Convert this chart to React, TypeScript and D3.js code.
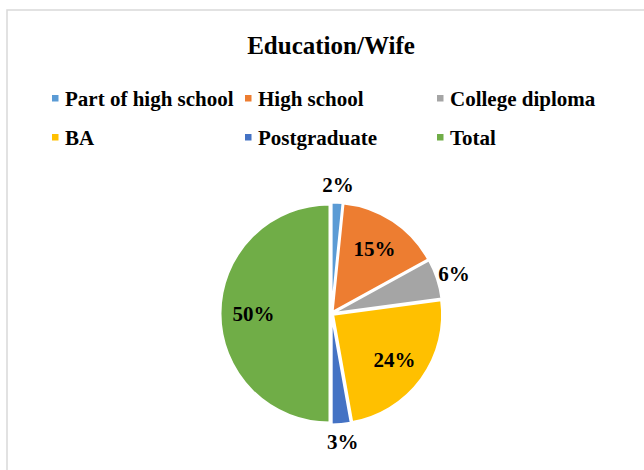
import React from "react";
import * as d3 from "d3";

const categories = ["Part of high school", "High school", "College diploma", "BA", "Postgraduate", "Total"];
const values = [1.6, 15.4, 5.9, 24.3, 2.8, 50];
const colors = ["#5B9BD5", "#ED7D31", "#A5A5A5", "#FFC000", "#4472C4", "#70AD47"];
const title = "Education/Wife";

const W = 644;
const H = 470;
const cx = 331.5;
const cy = 313.5;
const R = 109;
const explode = 2;
const font = "'Liberation Serif', 'Times New Roman', serif";

export default function App() {
  const total = d3.sum(values);
  const pie = d3.pie<number>().sort(null).value((d) => d)(values);
  const arc = d3.arc<d3.PieArcDatum<number>>().innerRadius(0).outerRadius(R);
  const inLabel = d3.arc<d3.PieArcDatum<number>>().innerRadius(78).outerRadius(78);
  const outLabel = d3.arc<d3.PieArcDatum<number>>().innerRadius(129).outerRadius(129);

  const legendCols = [52, 245, 437];
  const legendRows = [106, 145];

  return (
    <svg width={W} height={H} style={{ position: "absolute", left: 0, top: 0 }}>
      <rect x={0} y={0} width={W} height={H} fill="#fff" />
      <rect x={7} y={10} width={W + 20} height={H + 20} fill="#fff" stroke="#d9d9d9" strokeWidth={1.5} />
      <text x={331} y={54} textAnchor="middle" fontFamily={font} fontWeight="bold" fontSize={25} fill="#000">
        {title}
      </text>
      {categories.map((c, i) => {
        const col = i % 3;
        const row = Math.floor(i / 3);
        const x = legendCols[col];
        const y = legendRows[row];
        return (
          <g key={c}>
            <rect x={x} y={y - 11} width={6.5} height={6.5} fill={colors[i]} />
            <text x={x + 13} y={y} fontFamily={font} fontWeight="bold" fontSize={21} fill="#000">
              {c}
            </text>
          </g>
        );
      })}
      <g transform={`translate(${cx},${cy})`}>
        {pie.map((d, i) => {
          const mid = (d.startAngle + d.endAngle) / 2;
          const dx = Math.sin(mid) * explode;
          const dy = -Math.cos(mid) * explode;
          return (
            <path
              key={i}
              d={arc(d) || ""}
              transform={`translate(${dx},${dy})`}
              fill={colors[i]}
              stroke="#fff"
              strokeWidth={2}
              strokeLinejoin="round"
            />
          );
        })}
        {pie.map((d, i) => {
          const pct = (d.data / total) * 100;
          const [lx, ly] = pct < 10 ? outLabel.centroid(d) : inLabel.centroid(d);
          return (
            <text
              key={"l" + i}
              x={lx}
              y={ly}
              dy="0.35em"
              textAnchor="middle"
              fontFamily={font}
              fontWeight="bold"
              fontSize={21}
              fill="#000"
            >
              {Math.round(pct) + "%"}
            </text>
          );
        })}
      </g>
    </svg>
  );
}
